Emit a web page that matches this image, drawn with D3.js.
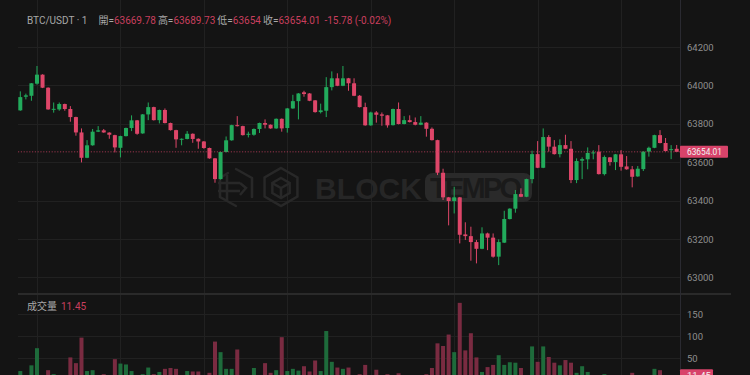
<!DOCTYPE html>
<html>
<head>
<meta charset="utf-8">
<script src="https://cdn.jsdelivr.net/npm/d3@7"></script>
<style>
  body { margin: 0; background: #141414; }
  svg { display: block; font-family: Roboto, "Noto Sans CJK TC", sans-serif; }
</style>
</head>
<body>
<div id="chart"></div>
<script>
// 1-minute BTC/USDT candles
const opens = [63870,63941,63946,64009,64056,63988,63875,63875,63903,63877,
  63835,63755,63623,63688,63759,63766,63754,63741,63675,63736,
  63778,63818,63750,63849,63887,63819,63872,63804,63767,63719,
  63721,63748,63722,63708,63674,63620,63512,63653,63714,63793,
  63788,63743,63743,63773,63804,63795,63776,63826,63778,63880,
  63918,63964,63958,63922,63861,63868,63991,64037,63998,64037,
  64011,63946,63887,63792,63859,63849,63844,63793,63877,63799,
  63819,63809,63795,63806,63774,63715,63545,63417,63398,63417,
  63224,63215,63184,63149,63229,63207,63108,63181,63304,63358,
  63434,63420,63512,63642,63571,63731,63681,63642,63689,63670,
  63507,63608,63615,63648,63655,63538,63625,63601,63641,63578,
  63563,63526,63564,63655,63675,63741,63700,63663,63669.78];
const highs = [63969,63957,64012,64101,64058,63990,63911,63911,63905,63892,
  63837,63776,63715,63773,63788,63773,63756,63743,63738,63780,
  63844,63820,63851,63911,63889,63874,63880,63806,63769,63724,
  63762,63750,63724,63710,63676,63622,63655,63734,63795,63840,
  63790,63759,63776,63806,63823,63797,63828,63828,63882,63951,
  63960,63972,63960,63924,63905,64043,64073,64063,64101,64039,
  64037,63950,63910,63863,63866,63859,63846,63879,63911,63840,
  63844,63833,63840,63808,63781,63717,63566,63419,63472,63419,
  63287,63264,63195,63261,63233,63229,63198,63347,63360,63455,
  63464,63514,63660,63710,63776,63741,63715,63719,63743,63710,
  63620,63625,63677,63662,63689,63635,63627,63643,63663,63632,
  63580,63580,63657,63681,63743,63767,63726,63689,63689.73];
const lows = [63868,63927,63920,64004,63986,63873,63858,63868,63868,63811,
  63738,63599,63621,63686,63757,63753,63722,63651,63625,63734,
  63762,63743,63748,63819,63817,63802,63802,63765,63675,63688,
  63719,63701,63670,63670,63618,63493,63510,63651,63712,63786,
  63739,63729,63738,63752,63776,63774,63774,63759,63754,63878,
  63823,63941,63918,63858,63854,63835,63974,63996,63996,63972,
  63944,63885,63790,63790,63806,63790,63780,63791,63797,63797,
  63807,63792,63793,63733,63713,63533,63403,63271,63333,63177,
  63195,63087,63073,63147,63142,63103,63064,63179,63302,63337,
  63418,63418,63490,63569,63569,63655,63640,63625,63668,63491,
  63491,63512,63563,63615,63536,63531,63582,63559,63556,63561,
  63469,63524,63554,63629,63673,63698,63656,63616,63654];
const closes = [63939,63948,64011,64056,63988,63875,63878,63903,63877,63835,
  63755,63623,63688,63759,63766,63755,63743,63677,63736,63778,
  63818,63748,63849,63887,63819,63872,63804,63767,63719,63722,
  63748,63721,63708,63674,63620,63512,63653,63714,63793,63788,
  63741,63748,63773,63804,63795,63776,63826,63776,63880,63918,
  63958,63955,63920,63861,63870,63991,64037,63998,64037,64011,
  63946,63887,63792,63859,63847,63842,63792,63877,63799,63819,
  63809,63795,63806,63774,63715,63545,63417,63398,63417,63222,
  63215,63184,63149,63229,63207,63108,63184,63304,63358,63434,
  63420,63512,63642,63571,63731,63681,63642,63689,63670,63507,
  63606,63616,63648,63651,63538,63627,63601,63641,63576,63563,
  63524,63566,63655,63675,63741,63700,63658,63668,63654.01];
const volumes = [21,8,34,73,9,23,14,7,8,52,
  39,97,21,23,9,14,6,48,38,36,
  21,9,14,29,14,19,26,28,26,7,
  21,20,20,9,17,88,64,26,26,70,
  10,8,28,9,39,17,23,98,21,26,
  22,32,20,45,21,112,42,29,26,29,
  9,14,35,10,24,8,14,9,16,7,
  6,8,5,14,28,84,78,104,64,176,
  68,107,52,19,30,35,57,35,41,40,
  28,10,77,42,77,53,40,34,46,40,
  17,32,19,8,10,14,7,9,10,8,
  17,9,10,8,26,23,10,7,11.45];

const priceTicks = [63000, 63200, 63400, 63600, 63800, 64000, 64200];
const volTicks = [50, 100, 150];
const timeGridIdx = [3, 18, 33, 48, 63, 78, 93, 108];
const headerLabels = ["BTC/USDT · 1", "開=", "63669.78", "高=", "63689.73", "低=", "63654", "收=", "63654.01", "-15.78 (-0.02%)"];
const headerKinds = ["label", "label", "val", "label", "val", "label", "val", "label", "val", "val"];
const volTitle = "成交量";
const lastPrice = 63654.01;
const lastVolume = 11.45;

const W = 750, H = 375;
const plotLeft = 18, plotRight = 680, axisEnd = 731;
const sepY = 294;
const up = "#22ab5c", down = "#de4669";
const upVol = "#1e6b3b", downVol = "#7a2b41";
const gridColor = "#212121";

const svg = d3.select("#chart").append("svg")
  .attr("width", W)
  .attr("height", H);

svg.append("rect").attr("width", W).attr("height", H).attr("fill", "#141414");

const n = closes.length;
const x = d3.scaleLinear().domain([0, n - 1]).range([20.3, 676.7]);
const bodyW = 4;
const y = d3.scaleLinear().domain([63000, 64200]).range([277.4, 47]);
const yv = d3.scaleLinear().domain([0, 150]).range([380.3, 314.3]);

// grid
const grid = svg.append("g").attr("shape-rendering", "crispEdges");
grid.selectAll(".hp").data(priceTicks).enter().append("line")
  .attr("x1", plotLeft).attr("x2", plotRight)
  .attr("y1", d => Math.round(y(d)) + 0.5).attr("y2", d => Math.round(y(d)) + 0.5)
  .attr("stroke", gridColor);
grid.selectAll(".hv").data(volTicks).enter().append("line")
  .attr("x1", plotLeft).attr("x2", plotRight)
  .attr("y1", d => Math.round(yv(d)) + 0.5).attr("y2", d => Math.round(yv(d)) + 0.5)
  .attr("stroke", gridColor);
grid.selectAll(".vt").data(timeGridIdx).enter().append("line")
  .attr("x1", d => Math.round(x(d)) + 0.5).attr("x2", d => Math.round(x(d)) + 0.5)
  .attr("y1", 0).attr("y2", H)
  .attr("stroke", gridColor);

// watermark
const wm = svg.append("g").attr("fill", "none").attr("stroke", "#282828").attr("stroke-width", 2.5);
function hexPath(cx, cy, r) {
  const pts = d3.range(6).map(k => {
    const a = Math.PI / 3 * k - Math.PI / 2;
    return [cx + r * Math.cos(a), cy + r * Math.sin(a)];
  });
  return "M" + pts.join("L") + "Z";
}
// first (stylised) mark
wm.append("path").attr("d", "M236,169 L252,178 M252,178 L252,197 M236,206 L220,197 L220,178 L228,173")
  .attr("stroke-linecap", "round");
wm.append("path").attr("d", "M218,183 L240,183 M218,191 L240,191 M227,175 L227,200 M240,183 L246,188 L240,195");
// second mark: hexagon with cube
wm.append("path").attr("d", hexPath(281, 187, 19));
wm.append("path").attr("d", hexPath(281, 188, 10));
wm.append("path").attr("d", "M272,183 L281,188 L290,183 M281,188 L281,198");
svg.append("text")
  .attr("x", 315).attr("y", 199)
  .attr("font-family", "'Liberation Sans', Arial, sans-serif")
  .attr("font-weight", "bold").attr("font-size", 30)
  .attr("textLength", 107).attr("fill", "#262626")
  .text("BLOCK");
svg.append("rect")
  .attr("x", 425).attr("y", 173).attr("width", 107).attr("height", 29).attr("rx", 8)
  .attr("fill", "#2a2a2a");
svg.append("text")
  .attr("x", 430).attr("y", 198)
  .attr("font-family", "'Liberation Sans', Arial, sans-serif")
  .attr("font-weight", "bold").attr("font-size", 29)
  .attr("textLength", 92).attr("fill", "#1a1a1a")
  .text("TEMPO");

// pane separator and price axis border
svg.append("rect").attr("x", plotLeft).attr("y", sepY - 1).attr("width", axisEnd - plotLeft).attr("height", 2)
  .attr("fill", "#2a2a2a");
svg.append("line").attr("x1", plotRight + 0.5).attr("x2", plotRight + 0.5).attr("y1", 0).attr("y2", H)
  .attr("stroke", "#2a2a31");

// candles
const data = d3.range(n).map(i => ({ i, o: opens[i], h: highs[i], l: lows[i], c: closes[i], v: volumes[i] }));
const candles = svg.append("g").selectAll("g").data(data).enter().append("g");
candles.append("line")
  .attr("x1", d => x(d.i)).attr("x2", d => x(d.i))
  .attr("y1", d => y(d.h)).attr("y2", d => y(d.l))
  .attr("stroke", d => d.c >= d.o ? up : down)
  .attr("stroke-width", 1);
candles.append("rect")
  .attr("x", d => x(d.i) - bodyW / 2)
  .attr("y", d => y(Math.max(d.o, d.c)))
  .attr("width", bodyW)
  .attr("height", d => Math.max(1, Math.abs(y(d.o) - y(d.c))))
  .attr("fill", d => d.c >= d.o ? up : down);

// volume bars
svg.append("g").selectAll("rect").data(data).enter().append("rect")
  .attr("x", d => x(d.i) - bodyW / 2)
  .attr("y", d => yv(d.v))
  .attr("width", bodyW)
  .attr("height", d => yv(0) - yv(d.v))
  .attr("fill", d => d.c >= d.o ? upVol : downVol);

// last price line
svg.append("line")
  .attr("x1", plotLeft).attr("x2", plotRight)
  .attr("y1", y(lastPrice)).attr("y2", y(lastPrice))
  .attr("stroke", "#c23f5d").attr("stroke-opacity", 0.75)
  .attr("stroke-dasharray", "1.2,1.6");

// axes
const yAxis = svg.append("g")
  .attr("transform", `translate(${plotRight},0)`)
  .call(d3.axisRight(y).tickValues(priceTicks).tickSize(0).tickPadding(7).tickFormat(d3.format("d")));
const vAxis = svg.append("g")
  .attr("transform", `translate(${plotRight},0)`)
  .call(d3.axisRight(yv).tickValues(volTicks).tickSize(0).tickPadding(7));
[yAxis, vAxis].forEach(a => {
  a.select(".domain").remove();
  a.selectAll("text").attr("fill", "#8e8e8e").attr("font-size", 9.5)
    .style("font-family", "Roboto, sans-serif");
});

// last value labels
svg.append("rect").attr("x", plotRight).attr("y", y(lastPrice) - 6).attr("width", 48).attr("height", 12)
  .attr("rx", 1).attr("fill", "#d8436a");
svg.append("text").attr("x", 687).attr("y", y(lastPrice)).attr("dy", "0.35em")
  .attr("font-size", 9.5).attr("fill", "#f2f2f2")
  .attr("textLength", 35).attr("lengthAdjust", "spacingAndGlyphs")
  .text(d3.format(".2f")(lastPrice));
svg.append("rect").attr("x", plotRight).attr("y", yv(lastVolume) - 6).attr("width", 33).attr("height", 12)
  .attr("rx", 1).attr("fill", "#d8436a");
svg.append("text").attr("x", 687).attr("y", yv(lastVolume)).attr("dy", "0.35em")
  .attr("font-size", 9.5).attr("fill", "#f2f2f2").text(lastVolume);

// header legend: one text line, parts flow one after another
const headerGap = [0, 11, 0, 2, 0, 2, 0, 2, 0, 4];
const header = svg.append("text").attr("x", 27).attr("y", 24).attr("font-size", 10);
header.selectAll("tspan").data(headerLabels).enter().append("tspan")
  .attr("dx", (d, i) => headerGap[i])
  .attr("fill", (d, i) => headerKinds[i] === "val" ? "#c93f5e" : "#a8a8a8")
  .text(d => d);

const volLegend = svg.append("text").attr("x", 27).attr("y", 309.5).attr("font-size", 10);
volLegend.append("tspan").attr("fill", "#a8a8a8").text(volTitle);
volLegend.append("tspan").attr("dx", 4).attr("fill", "#c93f5e").text(lastVolume);
</script>
</body>
</html>
